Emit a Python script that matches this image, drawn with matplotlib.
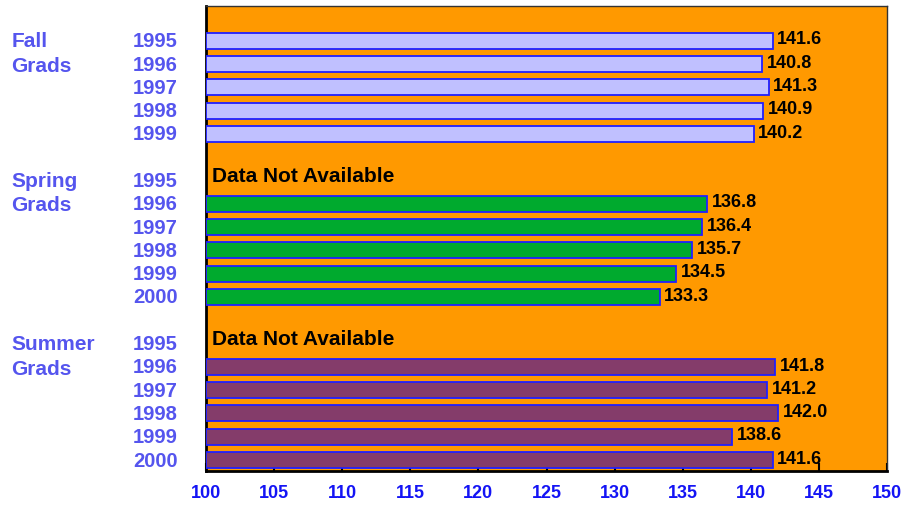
import matplotlib.pyplot as plt

# data
group_names = ['Fall', 'Spring', 'Summer']
fall_years = ['1995', '1996', '1997', '1998', '1999']
fall_vals = [141.6, 140.8, 141.3, 140.9, 140.2]
spring_years = ['1995', '1996', '1997', '1998', '1999', '2000']
spring_vals = [None, 136.8, 136.4, 135.7, 134.5, 133.3]
summer_years = ['1995', '1996', '1997', '1998', '1999', '2000']
summer_vals = [None, 141.8, 141.2, 142.0, 138.6, 141.6]
x_ticks = [100, 105, 110, 115, 120, 125, 130, 135, 140, 145, 150]

colors = ['#C0C0FF', '#00AA2E', '#843C6A']
label_blue = '#5555EE'
tick_blue = '#1414F5'
arial = ['Liberation Sans', 'DejaVu Sans']

fig = plt.figure(figsize=(9.01, 5.06), dpi=100)
ax = fig.add_axes([206 / 901, 1 - 472 / 506, 681 / 901, 465 / 506])
ax.set_facecolor('#FF9900')

sections = [(fall_years, fall_vals, 0), (spring_years, spring_vals, 6),
            (summer_years, summer_vals, 13)]
yax = ax.get_yaxis_transform()

for i, (years, vals, start) in enumerate(sections):
    for j, (yr, v) in enumerate(zip(years, vals)):
        pos = start + j
        # year label at left
        ax.text(-0.042, pos, yr, transform=yax, ha='right', va='center',
                fontsize=14.5, fontweight='bold', color=label_blue, family=arial)
        if v is None:
            ax.text(100.45, pos - 0.2, 'Data Not Available', ha='left', va='center',
                    fontsize=15, fontweight='bold', color='black', family=arial)
            continue
        ax.barh(pos, v - 100, left=100, height=0.69, color=colors[i],
                edgecolor='#2020FF', linewidth=1.3, zorder=3)
        ax.text(v + 0.35, pos - 0.08, f'{v:.1f}', ha='left', va='center',
                fontsize=13, fontweight='bold', color='black', family=arial)
    # group label, two lines
    ax.text(-0.2855, start, group_names[i], transform=yax, ha='left', va='center',
            fontsize=15, fontweight='bold', color=label_blue, family=arial)
    ax.text(-0.2855, start + 1.05, 'Grads', transform=yax, ha='left', va='center',
            fontsize=15, fontweight='bold', color=label_blue, family=arial)

ax.set_xlim(100, 150)
ax.set_ylim(18.47, -1.49)
ax.set_yticks([])
ax.set_xticks(x_ticks)
ax.set_xticklabels([str(t) for t in x_ticks], fontsize=13, fontweight='bold',
                   color=tick_blue, family=arial)
ax.tick_params(axis='x', direction='in', length=6, width=1.5, color='black', pad=9)
for s in ['left', 'bottom']:
    ax.spines[s].set_linewidth(2)
    ax.spines[s].set_color('black')
for s in ['top', 'right']:
    ax.spines[s].set_linewidth(1)
    ax.spines[s].set_color('#333333')

plt.savefig('out.png', dpi=100)
